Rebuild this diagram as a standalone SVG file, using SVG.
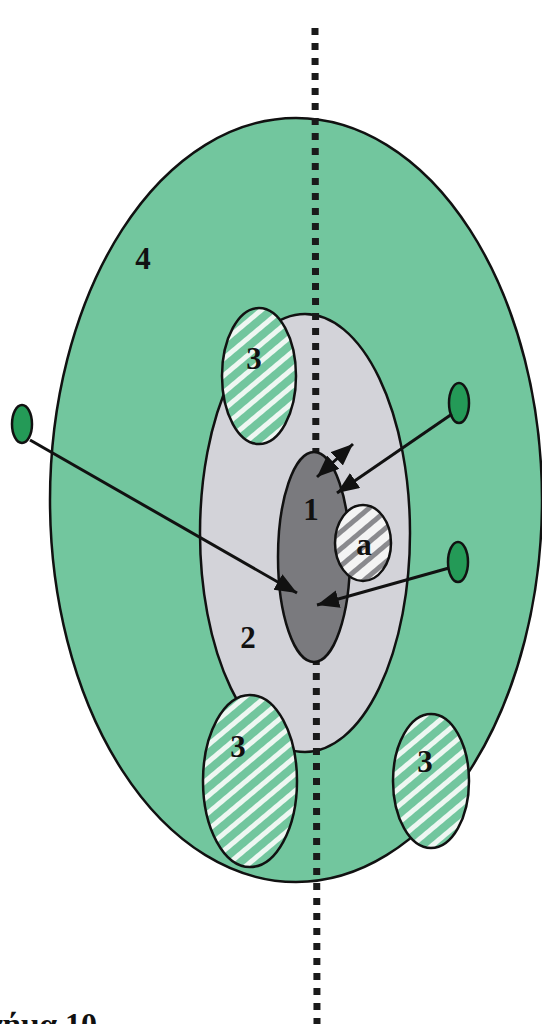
<svg xmlns="http://www.w3.org/2000/svg" width="542" height="1024" viewBox="0 0 542 1024">
<style>
.lbl{font-family:"Liberation Serif","Times New Roman",serif;font-weight:bold;font-size:31px;fill:#111;text-anchor:middle}
.outl{stroke:#111;stroke-width:2.5}
.arr{stroke:#111;stroke-width:3;fill:none}
</style>
<defs>
<pattern id="hatchG" patternUnits="userSpaceOnUse" width="13" height="13" patternTransform="rotate(50)">
<rect width="13" height="13" fill="#72c69e"/>
<rect width="5" height="13" fill="#eef7f2"/>
</pattern>
<pattern id="hatchA" patternUnits="userSpaceOnUse" width="13" height="13" patternTransform="rotate(50)">
<rect width="13" height="13" fill="#f4f4f4"/>
<rect width="5" height="13" fill="#8a8a8e"/>
</pattern>
<marker id="ah" markerUnits="userSpaceOnUse" markerWidth="24" markerHeight="20" refX="22" refY="9" orient="auto-start-reverse">
<path d="M0,0 L22,9 L0,18 z" fill="#111"/>
</marker>
</defs>
<rect width="542" height="1024" fill="#ffffff"/>
<g id="node-4">
<ellipse cx="296" cy="500" rx="246" ry="382" fill="#72c69e" class="outl"/>
<text class="lbl" x="143" y="269">4</text>
</g>
<g id="node-2">
<ellipse cx="305" cy="533" rx="105" ry="219" fill="#d3d3d9" class="outl"/>
<text class="lbl" x="248" y="648">2</text>
</g>
<g id="node-3-top">
<ellipse cx="259" cy="376" rx="37" ry="68" fill="url(#hatchG)" class="outl"/>
<text class="lbl" x="254" y="369">3</text>
</g>
<g id="node-3-bottom-left">
<ellipse cx="250" cy="781" rx="47" ry="86" fill="url(#hatchG)" class="outl"/>
<text class="lbl" x="238" y="757">3</text>
</g>
<g id="node-3-bottom-right">
<ellipse cx="431" cy="781" rx="38" ry="67" fill="url(#hatchG)" class="outl"/>
<text class="lbl" x="425" y="772">3</text>
</g>
<g id="connectors">
<line x1="315" y1="28" x2="317" y2="1024" stroke="#1a1a1a" stroke-width="7" stroke-dasharray="7 8"/>
</g>
<g id="node-1">
<ellipse cx="314" cy="557" rx="36" ry="105" fill="#7a7a7e" class="outl"/>
<text class="lbl" x="311" y="520">1</text>
</g>
<g id="node-a">
<ellipse cx="363" cy="543" rx="28" ry="38" fill="url(#hatchA)" class="outl"/>
<text class="lbl" x="364" y="555">a</text>
</g>
<g id="source-left">
<ellipse cx="22" cy="424" rx="10" ry="19" fill="#249a57" class="outl"/>
</g>
<g id="source-right-top">
<ellipse cx="459" cy="403" rx="10" ry="20" fill="#249a57" class="outl"/>
</g>
<g id="source-right-bottom">
<ellipse cx="458" cy="562" rx="10" ry="20" fill="#249a57" class="outl"/>
</g>
<g id="arrows">
<line class="arr" x1="30" y1="440" x2="297" y2="593" marker-end="url(#ah)"/>
<line class="arr" x1="452" y1="414" x2="337" y2="493" marker-end="url(#ah)"/>
<line class="arr" x1="449" y1="568" x2="317" y2="605" marker-end="url(#ah)"/>
<line class="arr" x1="317" y1="477" x2="353" y2="444" marker-start="url(#ah)" marker-end="url(#ah)"/>
</g>
<g id="caption">
<text x="97" y="1035" font-family="'Liberation Serif','Times New Roman',serif" font-weight="bold" font-size="32" text-anchor="end" fill="#111">Σχήμα 10</text>
</g>
</svg>
